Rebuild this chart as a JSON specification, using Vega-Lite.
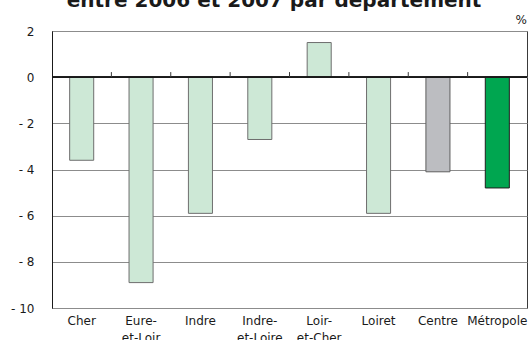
{
  "$schema": "https://vega.github.io/schema/vega-lite/v6.json",
  "autosize": "none",
  "width": 475,
  "height": 277,
  "padding": {"left": 52, "top": 31, "right": 2, "bottom": 32},
  "background": "white",
  "config": {
    "view": {"stroke": "#3a3a3a", "strokeWidth": 1},
    "axis": {"labelFont": "DejaVu Sans", "labelFontSize": 12, "labelColor": "#1a1a1a"}
  },
  "data": {
    "values": [
      {"dep": "Cher", "evol": -3.6, "groupe": "departement"},
      {"dep": "Eure-et-Loir", "evol": -8.9, "groupe": "departement"},
      {"dep": "Indre", "evol": -5.9, "groupe": "departement"},
      {"dep": "Indre-et-Loire", "evol": -2.7, "groupe": "departement"},
      {"dep": "Loir-et-Cher", "evol": 1.5, "groupe": "departement"},
      {"dep": "Loiret", "evol": -5.9, "groupe": "departement"},
      {"dep": "Centre", "evol": -4.1, "groupe": "region"},
      {"dep": "Métropole", "evol": -4.8, "groupe": "metropole"}
    ]
  },
  "encoding": {
    "x": {
      "field": "dep",
      "type": "nominal",
      "sort": null,
      "scale": {"paddingInner": 0, "paddingOuter": 0},
      "axis": {
        "title": null,
        "domain": false,
        "ticks": false,
        "labelAngle": 0,
        "labelPadding": 7,
        "labelLineHeight": 17,
        "labelBaseline": "top",
        "labelExpr": "datum.value == 'Eure-et-Loir' ? ['Eure-', 'et-Loir'] : datum.value == 'Indre-et-Loire' ? ['Indre-', 'et-Loire'] : datum.value == 'Loir-et-Cher' ? ['Loir-', 'et-Cher'] : datum.value"
      }
    }
  },
  "layer": [
    {
      "mark": {"type": "bar", "width": {"band": 0.405}, "strokeWidth": 1},
      "encoding": {
        "y": {
          "field": "evol",
          "type": "quantitative",
          "scale": {"domain": [-10, 2], "nice": false, "zero": false},
          "axis": {
            "title": null,
            "values": [-10, -8, -6, -4, -2, 0, 2],
            "ticks": false,
            "labelPadding": 18,
            "domainColor": "#1a1a1a",
            "gridColor": "#8c8c8c",
            "gridWidth": 1,
            "labelExpr": "datum.value < 0 ? '- ' + abs(datum.value) : datum.label"
          }
        },
        "y2": {"datum": 0},
        "fill": {
          "field": "groupe",
          "type": "nominal",
          "scale": {"domain": ["departement", "region", "metropole"], "range": ["#cde8d6", "#bcbdc1", "#00a650"]},
          "legend": null
        },
        "stroke": {
          "field": "groupe",
          "type": "nominal",
          "scale": {"domain": ["departement", "region", "metropole"], "range": ["#6e6e6e", "#5e5e5e", "#1e1e1e"]},
          "legend": null
        }
      }
    },
    {
      "mark": {"type": "rule", "color": "#1a1a1a", "strokeWidth": 1},
      "encoding": {
        "y": {"datum": 0},
        "x": {"value": 0},
        "x2": {"value": "width"}
      }
    },
    {
      "mark": {"type": "rule", "color": "#3a3a3a", "strokeWidth": 1},
      "transform": [{"filter": "datum.dep != 'Cher'"}],
      "encoding": {
        "x": {"field": "dep", "type": "nominal", "sort": null, "bandPosition": 0},
        "y": {"datum": 0},
        "y2": {"datum": 0.22}
      }
    },
    {
      "mark": {"type": "text", "text": "%", "font": "DejaVu Sans", "fontSize": 12, "color": "#1a1a1a", "align": "right", "baseline": "bottom", "dy": -4},
      "transform": [{"filter": "datum.dep == 'Métropole'"}],
      "encoding": {
        "x": {"field": "dep", "type": "nominal", "sort": null, "bandPosition": 1},
        "y": {"datum": 2}
      }
    },
    {
      "mark": {"type": "text", "text": "entre 2006 et 2007 par département", "font": "DejaVu Sans", "fontSize": 20, "fontWeight": "bold", "color": "#1a1a1a", "align": "center", "baseline": "alphabetic"},
      "transform": [{"filter": "datum.dep == 'Indre-et-Loire'"}],
      "encoding": {
        "x": {"field": "dep", "type": "nominal", "sort": null, "bandPosition": 0.74},
        "y": {"datum": 3.06}
      }
    }
  ]
}
